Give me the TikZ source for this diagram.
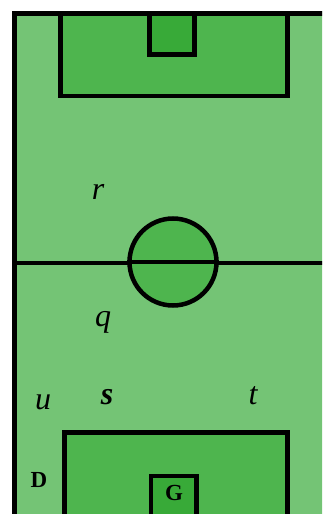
\documentclass[tikz,border=0pt]{standalone}
\usepackage{fontspec}
\setmainfont{Liberation Serif}
\definecolor{fieldgreen}{RGB}{116,196,117}
\definecolor{boxgreen}{RGB}{78,181,78}
\definecolor{goalgreen}{RGB}{56,170,56}
\begin{document}
\begin{tikzpicture}[x=1pt,y=-1pt,
  line/.style={draw=black,line width=4.5pt},
  area/.style={line,fill=boxgreen,line join=miter},
  goalarea/.style={line,fill=goalgreen,line join=miter},
  lbl/.style={inner sep=0pt,font=\fontsize{32}{32}\selectfont\itshape},
  blbl/.style={inner sep=0pt,font=\fontsize{23}{23}\selectfont\bfseries}]
\useasboundingbox (0,0) rectangle (322,514);
\fill[white] (0,0) rectangle (322,514);
\begin{scope}
\clip (0,0) rectangle (322,514);
\fill[fieldgreen] (12,11) rectangle (330,520);
% penalty areas
\draw[area] (60.5,13.5) rectangle (287.5,96);
\draw[goalarea] (149.5,13.5) rectangle (194.5,54.5);
\draw[area] (64.5,432.5) rectangle (287.5,525);
\draw[goalarea] (151,476) rectangle (196.5,525);
% border
\draw[line,line width=5pt] (14.5,525) -- (14.5,13.5) -- (330,13.5);
% midline and centre circle
\draw[line,line width=4pt] (12,263) -- (330,263);
\node[circle,draw=black,line width=4.5pt,fill=boxgreen,minimum size=87pt,inner sep=0pt] (cc) at (173,262) {};
\draw[line,line width=4pt] (cc.west) -- (cc.east);
\end{scope}
\node[lbl] (r) at (98,192) {r};
\node[lbl] (q) at (103,322) {q};
\node[lbl] (u) at (43,402) {u};
\node[lbl,font=\fontsize{32}{32}\selectfont\bfseries\itshape] (s) at (107,397) {s};
\node[lbl] (t) at (253,396) {t};
\node[blbl] (D) at (39,480) {D};
\node[blbl] (G) at (174,493) {G};
\end{tikzpicture}
\end{document}
